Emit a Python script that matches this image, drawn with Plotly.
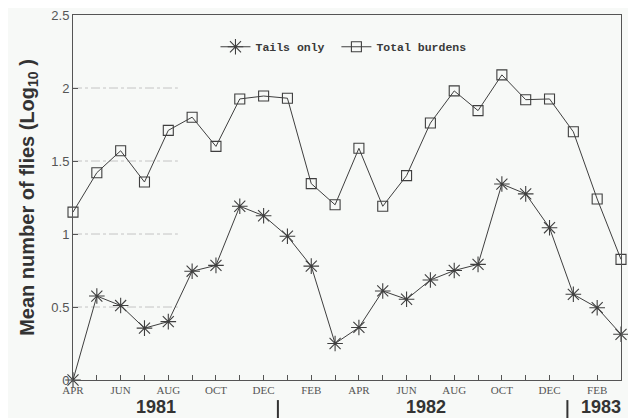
import plotly.graph_objects as go

months = ["APR", "MAY", "JUN", "JUL", "AUG", "SEP", "OCT", "NOV", "DEC", "JAN", "FEB", "MAR",
          "APR", "MAY", "JUN", "JUL", "AUG", "SEP", "OCT", "NOV", "DEC", "JAN", "FEB", "MAR"]
tails_only = [0.0, 0.575, 0.51, 0.355, 0.40, 0.745, 0.785, 1.19, 1.125, 0.985, 0.78, 0.25,
              0.36, 0.61, 0.553, 0.685, 0.75, 0.792, 1.342, 1.275, 1.043, 0.587, 0.495, 0.313]
total_burdens = [1.15, 1.42, 1.57, 1.356, 1.71, 1.80, 1.60, 1.925, 1.945, 1.93, 1.345, 1.20,
                 1.587, 1.19, 1.40, 1.76, 1.98, 1.845, 2.09, 1.92, 1.925, 1.70, 1.24, 0.826]
years = ["1981", "1982", "1983"]
y_ticks = [0, 0.5, 1, 1.5, 2, 2.5]
y_tick_text = ["0", "0.5", "1", "1.5", "2", "2.5"]

x = list(range(len(months)))
tick_text = [m if i % 2 == 0 else "" for i, m in enumerate(months)]

line_col = "#3f3f3f"
fig = go.Figure()
fig.add_trace(go.Scatter(
    x=x, y=tails_only, name="Tails only ", mode="lines+markers",
    line=dict(color=line_col, width=1),
    marker=dict(symbol="asterisk-open", size=13, color=line_col, line=dict(width=1.1, color=line_col)),
    cliponaxis=False))
fig.add_trace(go.Scatter(
    x=x, y=total_burdens, name="Total burdens", mode="lines+markers",
    line=dict(color=line_col, width=1),
    marker=dict(symbol="square-open", size=10, color=line_col, line=dict(width=1.1, color=line_col)),
    cliponaxis=False))

# faint partial dashed gridlines (as in the scanned figure)
for yv in [0.5, 1.0, 1.5, 2.0]:
    fig.add_shape(type="line", xref="x", yref="y", x0=0, x1=4.4, y0=yv, y1=yv,
                  line=dict(color="#c4c4c4", width=1, dash="dashdot"), layer="below")

# year labels and separators
year_pos = [3.5, 14.8, 22.15]
for yr, xp in zip(years, year_pos):
    fig.add_annotation(x=xp, y=-0.104, xref="x", yref="paper", text="<b>" + yr + "</b>",
                       showarrow=False, yanchor="bottom", borderpad=0,
                       font=dict(family="Liberation Sans", size=18, color="#333"))
for xs in [8.6, 20.75]:
    fig.add_shape(type="line", xref="x", yref="paper", x0=xs, x1=xs, y0=-0.055, y1=-0.11,
                  line=dict(color="#333", width=2))

fig.update_layout(
    width=628, height=410,
    margin=dict(l=65, r=15, t=7, b=38),
    paper_bgcolor="#f7f9f7", plot_bgcolor="#f7f9f7",
    showlegend=True,
    legend=dict(orientation="h", x=0.26, y=0.913, xanchor="left", yanchor="middle",
                bgcolor="rgba(0,0,0,0)",
                font=dict(family="Liberation Mono", size=11.5, color="#3a3a3a", weight="bold"),
                itemwidth=30),
    xaxis=dict(range=[0, 23], tickmode="array", tickvals=x, ticktext=tick_text,
               ticks="inside", ticklen=5, tickcolor="#555", showgrid=False, zeroline=False,
               showline=True, linecolor="#555", linewidth=1, mirror=True, automargin=False,
               tickfont=dict(family="Liberation Serif", size=11, color="#555")),
    yaxis=dict(range=[0, 2.5], tickmode="array", tickvals=y_ticks, ticktext=y_tick_text,
               ticks="inside", ticklen=5, tickcolor="#555", showgrid=False, zeroline=False,
               showline=True, linecolor="#555", linewidth=1, mirror=True, automargin=False,
               ticklabeloverflow="allow",
               tickfont=dict(family="Liberation Sans", size=13, color="#555"),
               title=dict(text="<b>Mean number of flies (Log<sub>10</sub> )</b>", standoff=11,
                          font=dict(family="Liberation Sans", size=20, color="#333"))),
)

fig.write_html("out.html")
